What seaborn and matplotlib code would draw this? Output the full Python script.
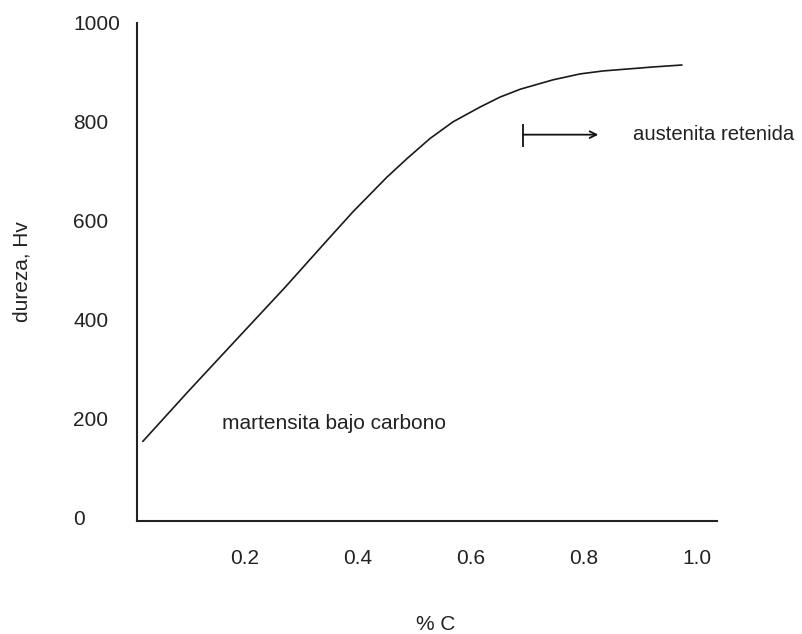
import matplotlib
matplotlib.use("Agg")
import matplotlib.pyplot as plt
import seaborn as sns
import pandas as pd

# Data
carbon = [0.019, 0.10, 0.191, 0.27, 0.342, 0.391, 0.451, 0.487, 0.527, 0.568, 0.616,
          0.651, 0.687, 0.745, 0.793, 0.834, 0.878, 0.922, 0.973]
hardness = [153, 255, 367, 464, 556, 618, 688, 726, 766, 800, 830,
            850, 866, 885, 897, 903, 907, 911, 915]
xticks = [0.2, 0.4, 0.6, 0.8, 1.0]
xtick_labels = ["0.2", "0.4", "0.6", "0.8", "1.0"]
yticks = [0, 200, 400, 600, 800, 1000]
ytick_labels = ["0", "200", "400", "600", "800", "1000"]
arrow_x = [0.692, 0.825]
arrow_y = 774
bar_y = [750, 796]

sns.set_theme(style="white")
plt.rcParams["font.family"] = ["Liberation Sans", "DejaVu Sans"]
fs = 15

fig = plt.figure(figsize=(8.03, 6.34), dpi=100)
ax = fig.add_axes([137 / 803, (634 - 521) / 634, (717 - 137) / 803, (521 - 23) / 634])

df = pd.DataFrame({"C": carbon, "Hv": hardness})
sns.lineplot(data=df, x="C", y="Hv", ax=ax, color="#1a1a1a", linewidth=1.2)

ax.set_xlim(0.0088, 1.035)
ax.set_ylim(-8, 997)
for s in ["top", "right"]:
    ax.spines[s].set_visible(False)
for s in ["left", "bottom"]:
    ax.spines[s].set_color("#222222")
    ax.spines[s].set_linewidth(1.5)

ax.set_xticks(xticks)
ax.set_xticklabels(xtick_labels, fontsize=fs, color="#222222")
ax.set_yticks(yticks)
ax.set_yticklabels(ytick_labels, fontsize=fs, color="#222222", ha="left")
ax.tick_params(axis="x", length=0, pad=20)
ax.tick_params(axis="y", length=0, pad=46)

ax.set_xlabel("% C", fontsize=fs, color="#222222", va="center")
ax.xaxis.set_label_coords(0.515, -0.207)
ax.set_ylabel("dureza, Hv", fontsize=fs, color="#222222", va="center")
ax.yaxis.set_label_coords(-0.198, 0.5)

ax.annotate("", xy=(arrow_x[1], arrow_y), xytext=(arrow_x[0], arrow_y),
            arrowprops=dict(arrowstyle="->", color="#111111", lw=1.3,
                            shrinkA=0, shrinkB=0, mutation_scale=12))
ax.vlines(arrow_x[0], bar_y[0], bar_y[1], color="#111111", lw=1.3)
ax.text(0.887, arrow_y, "austenita retenida", fontsize=14.6, color="#222222",
        ha="left", va="center")
ax.text(0.159, 189, "martensita bajo carbono", fontsize=fs, color="#222222",
        ha="left", va="center")

fig.savefig("out.png", dpi=100)
